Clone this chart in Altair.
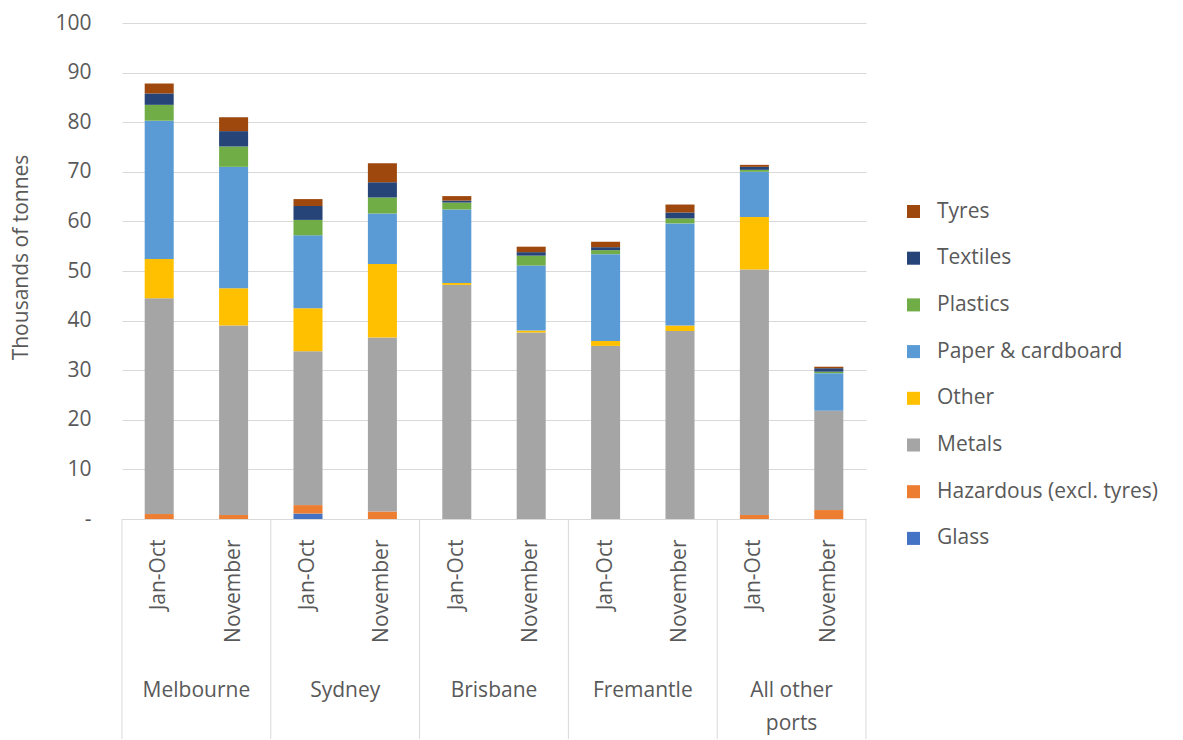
import altair as alt
import pandas as pd

cities = ["Melbourne", "Sydney", "Brisbane", "Fremantle", "All other ports"]
city_labels = ["Melbourne", "Sydney", "Brisbane", "Fremantle", "All other\nports"]
periods = ["Jan-Oct", "November"]

# stack order bottom -> top
series = ["Glass", "Hazardous (excl. tyres)", "Metals", "Other",
          "Paper & cardboard", "Plastics", "Textiles", " Tyres"]
series_colors = ["#4472C4", "#ED7D31", "#A5A5A5", "#FFC000",
                 "#5B9BD5", "#70AD47", "#264478", "#9E480E"]

# values (thousands of tonnes), order: Mel J, Mel N, Syd J, Syd N, Bri J, Bri N, Fre J, Fre N, All J, All N
glass     = [0.0, 0.0, 1.1, 0.0, 0.0, 0.0, 0.0, 0.0, 0.0, 0.0]
hazardous = [1.0, 0.8, 1.7, 1.5, 0.0, 0.0, 0.0, 0.0, 0.8, 1.8]
metals    = [43.5, 38.2, 31.0, 35.1, 47.2, 37.6, 34.9, 37.9, 49.5, 20.0]
other     = [7.9, 7.5, 8.7, 14.8, 0.4, 0.4, 1.0, 1.1, 10.6, 0.0]
paper     = [27.9, 24.5, 14.7, 10.2, 14.8, 13.1, 17.5, 20.6, 9.1, 7.6]
plastics  = [3.2, 4.1, 3.1, 3.2, 1.4, 2.0, 0.8, 1.0, 0.4, 0.3]
textiles  = [2.3, 3.1, 2.8, 3.1, 0.4, 0.7, 0.6, 1.2, 0.6, 0.7]
tyres     = [2.0, 2.8, 1.4, 3.8, 0.9, 1.1, 1.1, 1.6, 0.4, 0.3]
series_values = [glass, hazardous, metals, other, paper, plastics, textiles, tyres]

keys = [f"{c}|{p}" for c in cities for p in periods]

rows = []
for s_i, (s, vals) in enumerate(zip(series, series_values)):
    for k, v in zip(keys, vals):
        rows.append({"key": k, "series": s, "stack_order": s_i, "value": v})
df = pd.DataFrame(rows)

city_df = pd.DataFrame({"key": [f"{c}|Jan-Oct" for c in cities], "label": city_labels})
sep_df = pd.DataFrame({"key": [f"{c}|November" for c in cities]})
first_sep_df = pd.DataFrame({"key": [keys[0]]})

W, H = 744, 496
TEXT = "#595959"
GRID = "#D9D9D9"
FS = 21

x_scale = alt.Scale(domain=keys, paddingInner=0, paddingOuter=0)
x_axis = alt.Axis(labelExpr="split(datum.label, '|')[1]", labelAngle=-90,
                  ticks=False, grid=False, domainColor=GRID, labelPadding=20,
                  labelFontSize=FS, labelColor=TEXT, title=None)

legend_domain = list(reversed(series))
legend_range = list(reversed(series_colors))

bars = alt.Chart(df).mark_bar(width=alt.RelativeBandSize(0.39)).encode(
    x=alt.X("key:N", scale=x_scale, axis=x_axis, sort=keys),
    y=alt.Y("value:Q", stack="zero",
            scale=alt.Scale(domain=[0, 100], nice=False),
            axis=alt.Axis(values=list(range(0, 101, 10)),
                          labelExpr="datum.value == 0 ? '-' : datum.label",
                          ticks=False, domain=False, gridColor=GRID,
                          labelPadding=31, labelFontSize=FS, labelColor=TEXT,
                          title="Thousands of tonnes", titleFontSize=FS,
                          titleFontWeight="normal", titleColor=TEXT,
                          titleAngle=-90, titleX=-101, titleY=234,
                          titleAlign="center", titleBaseline="middle")),
    color=alt.Color("series:N", sort=legend_domain,
                    scale=alt.Scale(domain=legend_domain, range=legend_range),
                    legend=alt.Legend(title=None, orient="none", legendX=781, legendY=178,
                                      symbolType="square", symbolSize=170,
                                      symbolStrokeWidth=0, labelFontSize=FS,
                                      labelColor=TEXT, rowPadding=24.7, labelOffset=13,
                                      labelLimit=400)),
    order=alt.Order("stack_order:Q", sort="ascending"),
)

seps = alt.Chart(sep_df).mark_rule(color=GRID, strokeWidth=1).encode(
    x=alt.X("key:N", scale=x_scale, axis=x_axis, sort=keys, bandPosition=1),
    y=alt.value(H), y2=alt.value(H + 240),
)
first_sep = alt.Chart(first_sep_df).mark_rule(color=GRID, strokeWidth=1).encode(
    x=alt.X("key:N", scale=x_scale, axis=x_axis, sort=keys, bandPosition=0),
    y=alt.value(H), y2=alt.value(H + 240),
)

city_text = alt.Chart(city_df).mark_text(
    fontSize=FS, color=TEXT, baseline="alphabetic", align="center",
    lineBreak="\n", lineHeight=33,
).encode(
    x=alt.X("key:N", scale=x_scale, axis=x_axis, sort=keys, bandPosition=1),
    y=alt.value(H + 178),
    text="label:N",
)

chart = alt.layer(bars, seps, first_sep, city_text).properties(
    width=W, height=H,
    autosize=alt.AutoSizeParams(type="none"),
    padding={"left": 114, "top": 15, "right": 300, "bottom": 220},
).configure(font="Open Sans").configure_view(stroke=None)

chart.save("out.html", embed_options={"renderer": "svg", "actions": False})
